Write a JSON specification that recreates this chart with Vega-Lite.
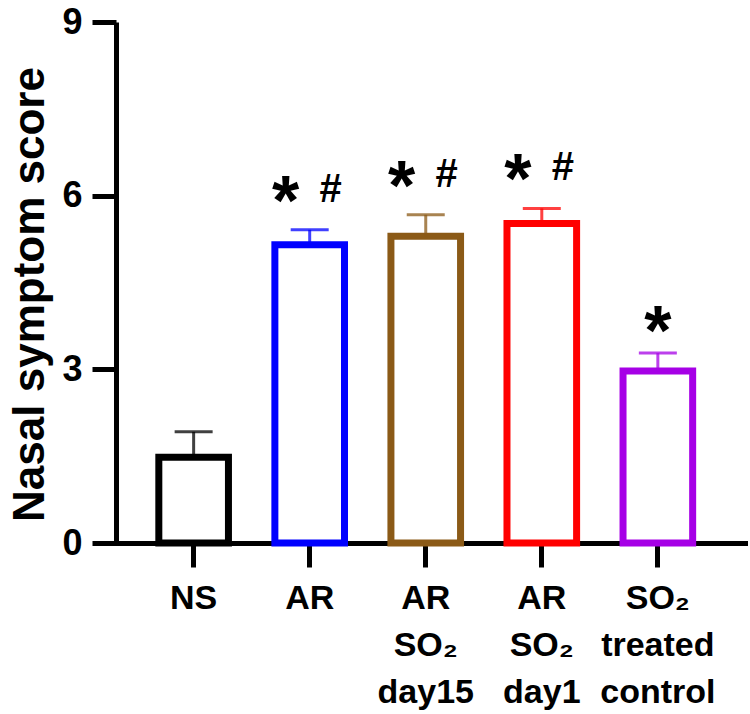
{
  "$schema": "https://vega.github.io/schema/vega-lite/v6.json",
  "width": 629,
  "height": 521,
  "autosize": {"type": "none"},
  "padding": {"left": 116, "top": 22, "right": 5, "bottom": 171},
  "background": "white",
  "config": {"view": {"stroke": null}, "font": "Liberation Sans"},
  "data": {
    "values": [
      {"group": "NS", "mean": 1.48, "upper": 1.92, "sig": ""},
      {"group": "AR", "mean": 5.15, "upper": 5.41, "sig": "*#"},
      {"group": "AR|SO₂|day15", "mean": 5.3, "upper": 5.67, "sig": "*#"},
      {"group": "AR|SO₂|day1", "mean": 5.52, "upper": 5.78, "sig": "*#"},
      {"group": "SO₂|treated|control", "mean": 2.97, "upper": 3.28, "sig": "*"}
    ]
  },
  "encoding": {
    "x": {
      "field": "group",
      "type": "nominal",
      "sort": null,
      "scale": {"paddingInner": 0.4, "paddingOuter": 0.41, "align": 0.45},
      "axis": {
        "title": null,
        "labelAngle": 0,
        "labelExpr": "split(datum.label, '|')",
        "labelFontSize": 34,
        "labelFontWeight": "bold",
        "labelColor": "black",
        "labelLineHeight": 47,
        "labelPadding": 14,
        "tickSize": 24,
        "tickWidth": 5,
        "tickColor": "black",
        "domainWidth": 5,
        "domainColor": "black",
        "domainCap": "square"
      }
    }
  },
  "layer": [
    {
      "mark": {"type": "bar", "fill": "white", "strokeWidth": 7, "strokeJoin": "miter"},
      "encoding": {
        "y": {
          "field": "mean",
          "type": "quantitative",
          "scale": {"domain": [0, 9], "nice": false},
          "axis": {
            "values": [0, 3, 6, 9],
            "format": "d",
            "grid": false,
            "title": "Nasal symptom score",
            "titleFontSize": 44,
            "titleFontWeight": "bold",
            "titleColor": "black",
            "titlePadding": 9,
            "titleY": 272,
            "labelFontSize": 36,
            "labelFontWeight": "bold",
            "labelColor": "black",
            "labelPadding": 10,
            "tickSize": 24,
            "tickWidth": 5,
            "tickColor": "black",
            "domainWidth": 5,
            "domainColor": "black"
          }
        },
        "stroke": {
          "field": "group",
          "type": "nominal",
          "legend": null,
          "scale": {
            "domain": ["NS", "AR", "AR|SO₂|day15", "AR|SO₂|day1", "SO₂|treated|control"],
            "range": ["#000000", "#0000ff", "#8b5a17", "#ff0000", "#a600e6"]
          }
        }
      }
    },
    {
      "mark": {"type": "rule", "strokeWidth": 3, "opacity": 0.75},
      "encoding": {
        "y": {"field": "mean", "type": "quantitative"},
        "y2": {"field": "upper"},
        "stroke": {"field": "group", "type": "nominal", "legend": null}
      }
    },
    {
      "mark": {"type": "tick", "orient": "horizontal", "size": 38, "thickness": 3, "opacity": 0.75},
      "encoding": {
        "y": {"field": "upper", "type": "quantitative"},
        "color": {"field": "group", "type": "nominal", "legend": null, "scale": {
            "domain": ["NS", "AR", "AR|SO₂|day15", "AR|SO₂|day1", "SO₂|treated|control"],
            "range": ["#000000", "#0000ff", "#8b5a17", "#ff0000", "#a600e6"]
          }}
      }
    },
    {
      "transform": [{"filter": "datum.sig == '*#'"}],
      "mark": {"type": "text", "text": "*", "fontSize": 70, "fontWeight": "bold", "baseline": "alphabetic", "dx": -24, "dy": -5, "color": "black"},
      "encoding": {"y": {"field": "upper", "type": "quantitative"}}
    },
    {
      "transform": [{"filter": "datum.sig == '*'"}],
      "mark": {"type": "text", "text": "*", "fontSize": 70, "fontWeight": "bold", "baseline": "alphabetic", "dx": 0, "dy": 2, "color": "black"},
      "encoding": {"y": {"field": "upper", "type": "quantitative"}}
    },
    {
      "transform": [{"filter": "datum.sig == '*#'"}],
      "mark": {"type": "text", "text": "#", "fontSize": 40, "fontWeight": "bold", "baseline": "alphabetic", "dx": 21, "dy": -28, "color": "black"},
      "encoding": {"y": {"field": "upper", "type": "quantitative"}}
    }
  ]
}
